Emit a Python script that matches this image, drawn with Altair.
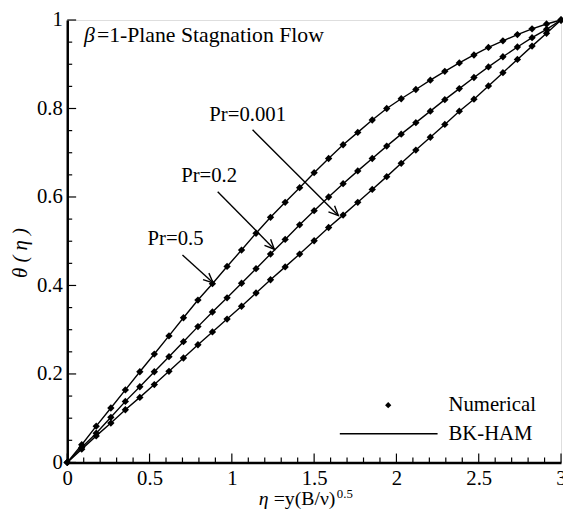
import math
import altair as alt
import pandas as pd

# ---------------- data ----------------
eta = [0.0, 0.088, 0.176, 0.265, 0.353, 0.441, 0.529, 0.618, 0.706, 0.794,
       0.882, 0.971, 1.059, 1.147, 1.235, 1.324, 1.412, 1.5, 1.588, 1.676,
       1.765, 1.853, 1.941, 2.029, 2.118, 2.206, 2.294, 2.382, 2.471, 2.559,
       2.647, 2.735, 2.824, 2.912, 3.0]

theta_pr05 = [0.0, 0.040, 0.082, 0.123, 0.164, 0.205, 0.245, 0.286, 0.327, 0.367,
              0.404, 0.443, 0.480, 0.518, 0.554, 0.588, 0.621, 0.655, 0.687, 0.718,
              0.746, 0.774, 0.800, 0.822, 0.843, 0.864, 0.884, 0.903, 0.921, 0.938,
              0.953, 0.967, 0.980, 0.991, 1.0]

theta_pr02 = [0.0, 0.034, 0.066, 0.102, 0.138, 0.171, 0.205, 0.239, 0.273, 0.307,
              0.340, 0.372, 0.405, 0.438, 0.471, 0.504, 0.537, 0.569, 0.600, 0.630,
              0.659, 0.687, 0.715, 0.742, 0.768, 0.794, 0.820, 0.845, 0.870, 0.894,
              0.917, 0.939, 0.960, 0.979, 1.0]

theta_pr0001 = [0.0, 0.030, 0.060, 0.089, 0.119, 0.147, 0.176, 0.206, 0.236, 0.266,
                0.295, 0.324, 0.353, 0.383, 0.413, 0.442, 0.471, 0.501, 0.531, 0.559,
                0.588, 0.617, 0.646, 0.676, 0.706, 0.735, 0.764, 0.794, 0.821, 0.851,
                0.881, 0.911, 0.941, 0.970, 1.0]

x_major = [0, 0.5, 1, 1.5, 2, 2.5, 3]
x_minor = [0.1, 0.2, 0.3, 0.4, 0.6, 0.7, 0.8, 0.9, 1.1, 1.2, 1.3, 1.4, 1.6, 1.7,
           1.8, 1.9, 2.1, 2.2, 2.3, 2.4, 2.6, 2.7, 2.8, 2.9]
y_major = [0, 0.2, 0.4, 0.6, 0.8, 1]
y_minor = [0.05, 0.1, 0.15, 0.25, 0.3, 0.35, 0.45, 0.5, 0.55, 0.65, 0.7, 0.75,
           0.85, 0.9, 0.95]

# annotations: label, label position, arrow start, arrow tip (data units)
ann_label = ["Pr=0.001", "Pr=0.2", "Pr=0.5"]
ann_tx = [1.096, 0.862, 0.658]
ann_ty = [0.786, 0.647, 0.504]
ann_x0 = [1.126, 0.914, 0.700]
ann_y0 = [0.752, 0.612, 0.469]
ann_x1 = [1.647, 1.258, 0.886]
ann_y1 = [0.558, 0.482, 0.406]

# ---------------- layout ----------------
W, H = 500, 448
FONT = "Liberation Serif"
FS = 21

rows = []
for name, vals in [("0.5", theta_pr05), ("0.2", theta_pr02), ("0.001", theta_pr0001)]:
    for e, t in zip(eta, vals):
        rows.append({"eta": e, "theta": t, "pr": name})
df = pd.DataFrame(rows)

xs = alt.Scale(domain=[0, 3], nice=False, zero=False)
ys = alt.Scale(domain=[0, 1], nice=False, zero=False)

x_axis = alt.Axis(values=x_major, format="~g", ticks=False, grid=False, title=None,
                  labelFont=FONT, labelFontSize=FS, labelColor="black",
                  labelFlush=False, labelOverlap=False, labelPadding=5,
                  domainColor="black", domainWidth=2.5)
y_axis = alt.Axis(values=y_major, format="~g", ticks=False, grid=False, title=None,
                  labelFont=FONT, labelFontSize=FS, labelColor="black",
                  labelFlush=False, labelOverlap=False, labelPadding=5,
                  domainColor="black", domainWidth=2.5)


def X(field):
    return alt.X(field, type="quantitative", scale=xs, axis=x_axis)


def Y(field):
    return alt.Y(field, type="quantitative", scale=ys, axis=y_axis)


base = alt.Chart(df)
lines = base.mark_line(color="black", strokeWidth=1.4).encode(
    x=X("eta"), y=Y("theta"), detail="pr:N")
points = base.mark_point(shape="diamond", filled=True, color="black", size=55, opacity=1).encode(
    x=X("eta"), y=Y("theta"))


# inward ticks
def xticks(vals, length):
    return alt.Chart(pd.DataFrame({"v": vals})).mark_rule(color="black", strokeWidth=1.2).encode(
        x=X("v"), y=alt.value(H), y2=alt.value(H - length))


def yticks(vals, length):
    return alt.Chart(pd.DataFrame({"v": vals})).mark_rule(color="black", strokeWidth=1.2).encode(
        y=Y("v"), x=alt.value(0), x2=alt.value(length))


ticks = [xticks(x_major, 9), xticks(x_minor, 5), yticks(y_major, 9), yticks(y_minor, 5)]

# annotations
ann = pd.DataFrame({"label": ann_label, "tx": ann_tx, "ty": ann_ty,
                    "x0": ann_x0, "y0": ann_y0, "x1": ann_x1, "y1": ann_y1})
ann["ang"] = [math.degrees(math.atan2((a - b) * H, (d - c) * W / 3.0))
              for a, b, c, d in zip(ann.y0, ann.y1, ann.x0, ann.x1)]

arrow_lines = alt.Chart(ann).mark_rule(color="black", strokeWidth=1.4).encode(
    x=X("x0"), y=Y("y0"), x2="x1:Q", y2="y1:Q")
arrow_heads = alt.Chart(ann).mark_point(shape="M-1,-0.45L0,0L-1,0.45", filled=False,
                                        color="black", strokeWidth=1.4, size=380, opacity=1).encode(
    x=X("x1"), y=Y("y1"), angle=alt.Angle("ang:Q", scale=None))
arrow_text = alt.Chart(ann).mark_text(font=FONT, fontSize=FS, color="black", align="center",
                                      baseline="middle").encode(
    x=X("tx"), y=Y("ty"), text="label:N")


# texts placed in the layout (pixels relative to the plot area)
def txt(s, x, y, size=FS, style="normal", align="left", baseline="alphabetic", angle=0):
    return alt.Chart(pd.DataFrame({"t": [s]})).mark_text(
        font=FONT, fontSize=size, fontStyle=style, color="black", align=align,
        baseline=baseline, angle=angle).encode(text="t:N", x=alt.value(x), y=alt.value(y))


texts = [
    txt("β", 17, 22, size=22, style="italic"),
    txt("=1-Plane Stagnation Flow", 30, 22, size=22),
    txt("η", 194, 491, size=20, style="italic"),
    txt("=y(B/ν)", 209, 491, size=20),
    txt("0.5", 273, 484, size=13),
    txt("θ ( η )", -47, 236, style="italic", align="center", baseline="middle", angle=270),
    txt("Numerical", 386, 390, baseline="middle"),
    txt("BK-HAM", 386, 419, baseline="middle"),
]

legend_pt = alt.Chart(pd.DataFrame({"t": ["Numerical"]})).mark_point(
    shape="diamond", filled=True, color="black", size=40, opacity=1).encode(
    x=alt.value(325), y=alt.value(390))
legend_ln = alt.Chart(pd.DataFrame({"t": ["BK-HAM"]})).mark_rule(
    color="black", strokeWidth=1.4).encode(
    x=alt.value(276), x2=alt.value(375), y=alt.value(419))

chart = alt.layer(lines, points, *ticks, arrow_lines, arrow_heads, arrow_text,
                  *texts, legend_pt, legend_ln).properties(
    width=W, height=H, autosize="none",
    padding={"left": 60, "top": 9, "right": 2, "bottom": 45},
).configure_view(stroke="black", strokeWidth=1.5
).configure_axis(labelFont=FONT, labelFontSize=FS, labelColor="black"
).configure(background="white", font=FONT)

chart.save("out.html", embed_options={"renderer": "svg", "actions": False})
